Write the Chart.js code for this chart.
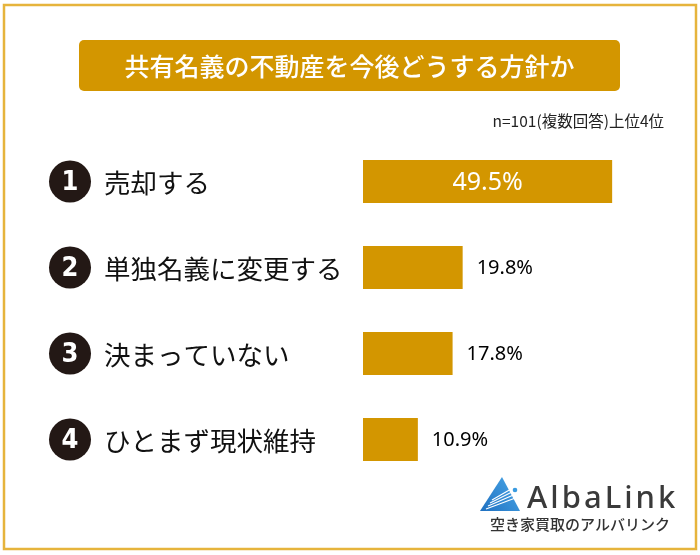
<!DOCTYPE html>
<html><head><meta charset="utf-8">
<script src="https://cdn.jsdelivr.net/npm/chart.js@4"></script>
<style>html,body{margin:0;padding:0;background:#fff}#w{width:700px;height:555px}</style>
</head><body><div id="w"><canvas id="c" width="700" height="555"></canvas></div>
<script>
const categories = ["売却する", "単独名義に変更する", "決まっていない", "ひとまず現状維持"];
const ranks = ["1", "2", "3", "4"];
const values = [49.5, 19.8, 17.8, 10.9];
const valueLabels = ["49.5%", "19.8%", "17.8%", "10.9%"];
const titleText = "共有名義の不動産を今後どうする方針か";
const noteText = "n=101(複数回答)上位4位";

const JP = '"Noto Sans CJK JP", "Noto Sans", sans-serif';
const GOLD = '#D39600';

const deco = {
  id: 'deco',
  beforeDraw(chart) {
    const ctx = chart.ctx;
    ctx.save();
    ctx.fillStyle = '#fff';
    ctx.fillRect(0, 0, 700, 555);
    // outer border
    ctx.strokeStyle = '#E6B43C';
    ctx.lineWidth = 2.5;
    ctx.strokeRect(4, 5, 692, 544);
    // title box
    ctx.fillStyle = GOLD;
    ctx.beginPath();
    ctx.roundRect(79, 40, 541, 51, 5);
    ctx.fill();
    ctx.fillStyle = '#fff';
    ctx.font = '500 25px ' + JP;
    ctx.textAlign = 'center';
    ctx.textBaseline = 'middle';
    ctx.fillText(titleText, 349.5, 66);
    // note
    ctx.fillStyle = '#222';
    ctx.font = '15.5px ' + JP;
    ctx.textAlign = 'right';
    ctx.fillText(noteText, 664, 121);
    ctx.restore();
  },
  afterDraw(chart) {
    const ctx = chart.ctx;
    const y = chart.scales.y, x = chart.scales.x;
    ctx.save();
    categories.forEach((c, i) => {
      const py = y.getPixelForValue(i);
      ctx.fillStyle = '#231815';
      ctx.beginPath();
      ctx.arc(70, py, 21, 0, Math.PI * 2);
      ctx.fill();
      ctx.fillStyle = '#fff';
      ctx.font = 'bold 27px "Liberation Sans Narrow", "DejaVu Sans Condensed", sans-serif';
      ctx.textAlign = 'center';
      ctx.textBaseline = 'middle';
      ctx.fillText(ranks[i], 70, py + 1);
      ctx.fillStyle = '#111';
      ctx.font = '26.5px ' + JP;
      ctx.textAlign = 'left';
      ctx.fillText(c, 104, py + 1);
      // value labels
      const px = x.getPixelForValue(values[i]);
      if (i === 0) {
        ctx.fillStyle = '#fff';
        ctx.font = '25px "Noto Sans", sans-serif';
        ctx.textAlign = 'center';
        ctx.fillText(valueLabels[i], (x.getPixelForValue(0) + px) / 2, py + 1);
      } else {
        ctx.fillStyle = '#000';
        ctx.font = '20px "Noto Sans", sans-serif';
        ctx.textAlign = 'left';
        ctx.fillText(valueLabels[i], px + 14, py + 1);
      }
    });
    // logo
    const tx = 480, ty = 477;
    const g = ctx.createLinearGradient(tx, ty + 35, tx + 40, ty);
    g.addColorStop(0, '#1E6FC0');
    g.addColorStop(1, '#4AA8E8');
    ctx.fillStyle = g;
    ctx.beginPath();
    ctx.moveTo(tx + 22, ty);
    ctx.lineTo(tx, ty + 34);
    ctx.lineTo(tx + 40, ty + 34);
    ctx.closePath();
    ctx.fill();
    ctx.strokeStyle = '#fff';
    ctx.lineWidth = 1.2;
    for (let k = 0; k < 4; k++) {
      ctx.beginPath();
      ctx.moveTo(tx + 6 + k * 2, ty + 32 - k * 3);
      ctx.lineTo(tx + 38, ty + 20 - k * 4);
      ctx.stroke();
    }
    ctx.fillStyle = '#3A9BE0';
    ctx.beginPath();
    ctx.arc(tx + 35, ty + 13, 2.3, 0, Math.PI * 2);
    ctx.fill();
    ctx.fillStyle = '#3a3a3a';
    ctx.font = '500 31px "Noto Sans", sans-serif';
    ctx.textAlign = 'left';
    ctx.textBaseline = 'alphabetic';
    ctx.letterSpacing = '3px';
    ctx.fillText('AlbaLink', 527, 508);
    ctx.letterSpacing = '0px';
    ctx.font = '500 15px ' + JP;
    ctx.fillStyle = '#333';
    ctx.fillText('空き家買取のアルバリンク', 490, 530);
    ctx.restore();
  }
};

new Chart(document.getElementById('c'), {
  type: 'bar',
  data: {
    labels: categories,
    datasets: [{ data: values, backgroundColor: GOLD, borderWidth: 0, barPercentage: 0.5, categoryPercentage: 1 }]
  },
  options: {
    indexAxis: 'y',
    responsive: false,
    animation: false,
    events: [],
    layout: { padding: { left: 363, right: 35, top: 138.5, bottom: 72.5 } },
    plugins: { legend: { display: false }, tooltip: { enabled: false } },
    scales: {
      x: { display: false, min: 0, max: 60 },
      y: { display: false }
    }
  },
  plugins: [deco]
});
</script></body></html>
